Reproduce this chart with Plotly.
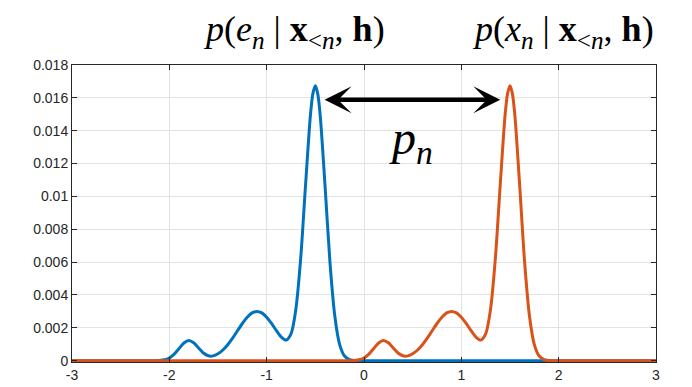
import plotly.graph_objects as go

# Blue curve p(e_n | x_<n, h): samples
blue_x = [-3.0, -2.2, -2.15, -2.1, -2.05, -2.0, -1.95, -1.9, -1.85, -1.8, -1.75, -1.7, -1.65,
          -1.6, -1.55, -1.5, -1.45, -1.4, -1.35, -1.3, -1.25, -1.2, -1.15, -1.1, -1.05,
          -1.0, -0.95, -0.9, -0.85, -0.8, -0.75, -0.7, -0.65, -0.6, -0.55, -0.525, -0.5,
          -0.475, -0.45, -0.4, -0.35, -0.3, -0.25, -0.2, -0.15, -0.1, -0.05, 0.0, 3.0]
blue_y = [0.0, 0.0, 0.000003, 0.000014, 0.000054, 0.000165, 0.000397, 0.000741, 0.00108,
          0.001227, 0.001092, 0.000773, 0.000464, 0.000297, 0.000292, 0.00042, 0.000652,
          0.000974, 0.001373, 0.00182, 0.002264, 0.002648, 0.002908, 0.003, 0.002908,
          0.002648, 0.002266, 0.001832, 0.001438, 0.001256, 0.001631, 0.003128, 0.00626,
          0.01074, 0.01498, 0.01626, 0.01673, 0.01624, 0.01493, 0.01062, 0.00602,
          0.002722, 0.000982, 0.000282, 0.000065, 0.000012, 0.000002, 0.0, 0.0]

# Orange curve p(x_n | x_<n, h): samples
orange_x = [-3.0, -0.2, -0.15, -0.1, -0.05, 0.0, 0.05, 0.1, 0.15, 0.2, 0.25, 0.3, 0.35,
            0.4, 0.45, 0.5, 0.55, 0.6, 0.65, 0.7, 0.75, 0.8, 0.85, 0.9, 0.95,
            1.0, 1.05, 1.1, 1.15, 1.2, 1.25, 1.3, 1.35, 1.4, 1.45, 1.475, 1.5,
            1.525, 1.55, 1.6, 1.65, 1.7, 1.75, 1.8, 1.85, 1.9, 1.95, 2.0, 3.0]
orange_y = [0.0, 0.0, 0.000003, 0.000014, 0.000054, 0.000165, 0.000397, 0.000741, 0.00108,
            0.001227, 0.001092, 0.000773, 0.000464, 0.000297, 0.000292, 0.00042, 0.000652,
            0.000974, 0.001373, 0.00182, 0.002264, 0.002648, 0.002908, 0.003, 0.002908,
            0.002648, 0.002266, 0.001832, 0.001438, 0.001256, 0.001631, 0.003128, 0.00626,
            0.01074, 0.01498, 0.01626, 0.01673, 0.01624, 0.01493, 0.01062, 0.00602,
            0.002722, 0.000982, 0.000282, 0.000065, 0.000012, 0.000002, 0.0, 0.0]

x_ticks = [-3, -2, -1, 0, 1, 2, 3]
x_labels = ["-3", "-2", "-1", "0", "1", "2", "3"]
y_ticks = [0, 0.002, 0.004, 0.006, 0.008, 0.01, 0.012, 0.014, 0.016, 0.018]
y_labels = ["0", "0.002", "0.004", "0.006", "0.008", "0.01", "0.012", "0.014", "0.016", "0.018"]

# arrow between the two modes
arrow_y = 0.01588
arrow_from = -0.42
arrow_to = 1.40

blue = "#0072BD"
orange = "#D95319"

fig = go.Figure()
fig.add_trace(go.Scatter(x=blue_x, y=blue_y, mode="lines",
                         line=dict(color=blue, width=3, shape="spline", smoothing=0.8),
                         showlegend=False))
fig.add_trace(go.Scatter(x=orange_x, y=orange_y, mode="lines",
                         line=dict(color=orange, width=3, shape="spline", smoothing=0.8),
                         showlegend=False))

axis_common = dict(
    showgrid=True, gridcolor="#e3e3e3", gridwidth=1,
    showline=True, linecolor="#262626", linewidth=1, mirror="ticks",
    ticks="inside", ticklen=5, tickcolor="#262626",
    tickfont=dict(family="Liberation Sans, Arial", size=14, color="#262626"),
    zeroline=False,
)

fig.update_xaxes(range=[-3, 3], tickvals=x_ticks, ticktext=x_labels, **axis_common)
fig.update_yaxes(range=[-0.00008, 0.018], tickvals=y_ticks, ticktext=y_labels, **axis_common)

serif = "Liberation Serif, Times New Roman, serif"
fig.add_annotation(xref="paper", yref="paper", x=0.380, y=1.0, yshift=33.5,
                   text="<i>p</i>(<i>e<sub>n</sub></i> | <b>x</b><sub>&lt;<i>n</i></sub>, <b>h</b>)",
                   showarrow=False, font=dict(family=serif, size=36, color="black"),
                   xanchor="center", yanchor="middle")
fig.add_annotation(xref="paper", yref="paper", x=0.841, y=1.0, yshift=33.5,
                   text="<i>p</i>(<i>x<sub>n</sub></i> | <b>x</b><sub>&lt;<i>n</i></sub>, <b>h</b>)",
                   showarrow=False, font=dict(family=serif, size=36, color="black"),
                   xanchor="center", yanchor="middle")
fig.add_annotation(x=0.48, y=0.0134, xref="x", yref="y",
                   text="<i>p<sub>n</sub></i>", showarrow=False,
                   font=dict(family=serif, size=48, color="black"))
fig.add_annotation(x=arrow_to, y=arrow_y, ax=arrow_from, ay=arrow_y, xref="x", yref="y",
                   axref="x", ayref="y", text="", showarrow=True,
                   arrowside="end+start", arrowhead=3, arrowsize=1, arrowwidth=4.5,
                   arrowcolor="black", standoff=0, startstandoff=0)

# the page body adds an 8px offset, margins compensate for it
fig.update_layout(
    width=692, height=387,
    margin=dict(l=64, r=44, t=57, b=33),
    plot_bgcolor="white", paper_bgcolor="white",
)

fig.write_html("out.html")
